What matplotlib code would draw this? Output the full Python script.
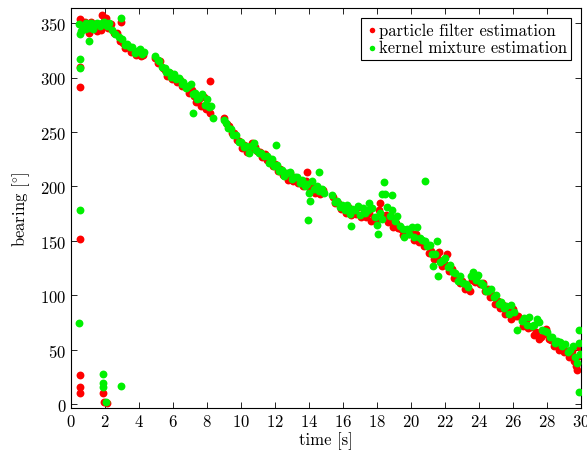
import matplotlib.pyplot as plt

plt.rcParams['font.family'] = ['cmr10', 'DejaVu Serif']
plt.rcParams['mathtext.fontset'] = 'cm'
plt.rcParams['axes.unicode_minus'] = False
plt.rcParams['axes.formatter.use_mathtext'] = True

# particle filter estimation (time [s], bearing [deg])
pf_t = [0.5, 0.52, 0.55, 0.5, 0.55, 0.55, 1.9, 1.95, 2.1,
        0.55, 0.6, 0.7, 0.8, 0.95, 1.05, 1.2, 1.35, 1.5, 1.6, 1.75, 1.85, 1.95, 2.05, 2.2, 2.35, 2.5, 2.95,
        2.7, 2.9, 3.05, 3.2, 3.35, 3.5, 3.65, 3.8, 3.95, 4.1, 4.25,
        4.95, 5.1, 5.25, 5.4, 5.5, 5.65, 5.8, 5.95, 6.1, 6.25, 6.4, 6.55, 6.7, 6.95, 7.1, 7.25, 7.35,
        7.5, 7.65, 7.8, 7.95, 8.1, 8.18, 8.2,
        9.0, 9.15, 9.3, 9.45, 9.6, 9.75, 9.9, 10.05, 10.2, 10.35, 10.5, 10.65, 10.8, 10.95, 11.1, 11.25,
        11.4, 11.55, 11.7, 11.85, 12.0, 12.15, 12.3, 12.45, 12.6, 12.75, 12.9, 13.05, 13.2, 13.35, 13.5,
        13.65, 13.8, 13.9, 14.05, 14.2, 14.35, 14.5, 14.65, 14.8,
        15.4, 15.55, 15.7, 15.85, 16.0, 16.15, 16.3, 16.45, 16.6, 16.75, 16.9, 17.05, 17.2, 17.35, 17.5,
        17.65, 17.8, 17.95, 18.1, 18.2, 18.35, 18.5, 18.65, 18.8, 18.95, 19.1, 19.25, 19.4, 19.55, 19.7,
        19.85, 20.0, 20.15, 20.3, 20.45, 20.6, 20.75, 20.9, 21.05, 21.2, 21.35, 21.5, 21.65, 21.8, 21.95,
        22.1, 22.25, 22.4, 22.55, 22.7, 22.85, 23.0, 23.15, 23.3, 23.45, 23.6, 23.75, 23.9, 24.05, 24.2,
        24.35, 24.5, 24.65, 24.8, 24.95, 25.1, 25.25, 25.4, 25.55, 25.7, 25.85, 26.0, 26.15, 26.3, 26.6,
        26.75, 26.9, 27.05, 27.2, 27.35, 27.5, 27.65, 27.8, 27.95, 28.1, 28.25, 28.4, 28.55, 28.7, 28.85,
        29.0, 29.15, 29.3, 29.45, 29.6, 29.7, 29.75, 29.85, 29.9]
pf_b = [10.5, 16, 27, 151.5, 291.5, 310, 10, 2, 0.5,
        354, 352, 345, 351, 348, 341, 351, 347, 343, 349, 344, 358, 352, 355, 346, 349, 341, 351,
        341, 334, 332, 327, 329, 324, 325, 321, 324, 320, 321,
        318, 314, 315, 309, 307, 302, 304, 299, 301, 296, 298, 292, 292, 286, 289, 283, 278,
        280, 274, 282, 271, 274, 297, 268,
        263, 257, 256, 249, 249, 243, 242, 235, 238, 232, 234, 240, 236, 233, 232, 227,
        230, 224, 225, 219, 221, 214, 216, 211, 212, 206, 212, 205, 207, 203, 204,
        200, 205, 213, 198, 200, 194, 199, 193, 197,
        190, 185, 185, 179, 182, 176, 181, 174, 177, 175, 181, 172, 175, 172, 176,
        168, 171, 168, 178, 185, 173, 174, 167, 172, 163, 166, 162, 161, 155, 158,
        156, 157, 151, 156, 149, 151, 145, 147, 139, 141, 133, 135, 140, 127, 130,
        138, 122, 124, 116, 118, 111, 113, 106, 108, 104, 114, 112, 118, 110, 111,
        104, 106, 98, 100, 92, 95, 88, 91, 83, 85, 78, 87, 81, 81, 72,
        77, 70, 71, 63, 66, 60, 62, 64, 69, 60, 59, 53, 54, 50, 55,
        48, 49, 43, 49, 40, 35, 31, 44, 52]

# kernel mixture estimation (time [s], bearing [deg])
km_t = [0.49, 0.5, 0.52, 0.55, 1.05, 1.9, 1.9, 1.88, 2.08, 2.94, 2.94, 8.35, 7.2, 12.06, 13.96,
        14.6, 16.45, 18.4, 18.3, 18.9, 20.8, 21.3, 21.6, 26.2, 29.9, 29.9,
        0.45, 0.5, 0.6, 0.7, 0.8, 0.9, 1.0, 1.1, 1.2, 1.3, 1.4, 1.55, 1.7, 1.8, 1.95, 2.1, 2.25, 2.4,
        2.6, 2.8, 3.0, 3.15, 3.3, 3.45, 3.6, 3.75, 3.9, 4.05, 4.2, 4.3,
        4.95, 5.1, 5.2, 5.35, 5.5, 5.6, 5.75, 5.9, 6.05, 6.2, 6.35, 6.5, 6.6, 6.75, 6.9, 7.05, 7.15,
        7.3, 7.4, 7.55, 7.7, 7.85, 8.0, 8.1, 8.25,
        9.0, 9.1, 9.25, 9.4, 9.55, 9.7, 9.85, 10.0, 10.15, 10.3, 10.45, 10.6, 10.75, 10.9, 11.05, 11.2,
        11.35, 11.5, 11.65, 11.8, 11.95, 12.1, 12.25, 12.4, 12.55, 12.7, 12.85, 13.0, 13.15, 13.3, 13.45,
        13.6, 13.75, 13.9, 14.0, 14.05, 14.15, 14.3, 14.45, 14.6, 14.75, 14.85,
        15.35, 15.5, 15.65, 15.8, 15.95, 16.1, 16.25, 16.4, 16.55, 16.7, 16.85, 17.0, 17.15, 17.3, 17.45,
        17.55, 17.7, 17.85, 18.0, 18.05, 18.15, 18.3, 18.45, 18.6, 18.75, 18.9, 19.05, 19.2, 19.35, 19.5,
        19.6, 19.75, 19.9, 20.05, 20.2, 20.35, 20.5, 20.65, 20.8, 20.95, 21.1, 21.25, 21.4, 21.55, 21.7,
        21.85, 22.0, 22.15, 22.3, 22.45, 22.6, 22.75, 22.9, 23.05, 23.2, 23.35, 23.5, 23.65, 23.8, 23.95,
        24.1, 24.25, 24.4, 24.55, 24.7, 24.85, 25.0, 25.15, 25.3, 25.45, 25.6, 25.75, 25.9, 26.05, 26.5,
        26.65, 26.8, 26.95, 27.1, 27.25, 27.4, 27.55, 27.7, 27.85, 28.0, 28.15, 28.3, 28.45, 28.6, 28.75,
        28.9, 29.05, 29.2, 29.35, 29.5, 29.65, 29.75, 29.85, 29.95]
km_b = [74.5, 178, 309, 317, 334, 27.6, 19, 16, 2, 16.5, 355, 263, 268, 238, 169,
        213, 163.5, 204, 193, 192, 205, 127, 118, 68, 68, 11.3,
        349, 340, 343, 347, 345, 350, 346, 349, 350, 345, 349, 350, 348, 350, 351, 348, 350, 344,
        340, 337, 336, 330, 331, 328, 328, 323, 325, 326, 322, 324,
        320, 316, 315, 310, 309, 305, 305, 301, 303, 299, 300, 294, 296, 291, 292, 294, 285,
        286, 280, 281, 285, 275, 280, 273, 274,
        261, 258, 254, 253, 247, 247, 241, 241, 236, 237, 231, 237, 240, 234, 231, 231,
        228, 228, 222, 225, 219, 220, 214, 215, 210, 212, 213, 207, 209, 209, 203,
        206, 200, 202, 194, 187, 205, 198, 200, 196, 198, 194,
        192, 186, 187, 181, 183, 178, 183, 175, 179, 178, 182, 174, 180, 176, 178,
        185, 180, 172, 165, 156, 176, 170, 193, 181, 173, 178, 168, 173, 164, 161,
        154, 161, 156, 163, 154, 163, 153, 151, 150, 145, 146, 138, 138, 150, 131,
        132, 134, 126, 128, 121, 120, 113, 118, 111, 110, 108, 118, 121, 114, 119,
        111, 109, 104, 104, 106, 98, 100, 92, 94, 88, 90, 83, 91, 85, 76,
        79, 73, 80, 72, 73, 78, 75, 68, 67, 66, 62, 62, 56, 58, 57,
        53, 55, 48, 50, 53, 43, 38, 56, 46]

fig = plt.figure(figsize=(5.87, 4.56), dpi=100)
ax = fig.add_axes([0.121, 0.103, 0.869, 0.877])

ax.scatter(pf_t, pf_b, s=32, color='red', linewidths=0, label='particle filter estimation', zorder=2)
ax.scatter(km_t, km_b, s=32, color='#00f000', linewidths=0, label='kernel mixture estimation', zorder=3)

ax.set_xlim(0, 30)
ax.set_ylim(-3.7, 364)
ax.set_xticks(range(0, 31, 2))
ax.set_yticks(range(0, 351, 50))
ax.tick_params(direction='in', top=True, right=True, labelsize=12, length=4, width=0.6)
for sp in ax.spines.values():
    sp.set_linewidth(0.8)

ax.set_xlabel('time [s]', fontsize=12, labelpad=2)
ax.set_ylabel(r'bearing [$\!^\circ\!$]', fontsize=12, labelpad=6)

leg = ax.legend(loc='upper right', fontsize=12, markerscale=0.7, handletextpad=0.0,
                handlelength=0.8, borderpad=0.25, labelspacing=0.15, borderaxespad=0.6,
                fancybox=False, edgecolor='black', framealpha=1)
leg.get_frame().set_linewidth(0.8)

fig.savefig('out.png', dpi=100)
